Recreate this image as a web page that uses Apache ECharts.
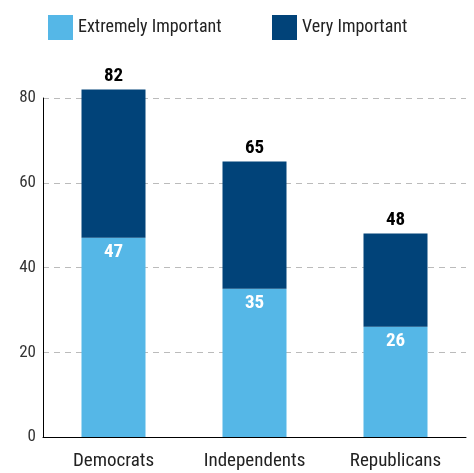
<!DOCTYPE html>
<html><head><meta charset="utf-8">
<script src="https://cdn.jsdelivr.net/npm/echarts@6/dist/echarts.min.js"></script>
<style>html,body{margin:0;padding:0;background:#fff}#c{width:474px;height:473px}</style>
</head><body><div id="c"></div>
<script>
const categories = ['Democrats', 'Independents', 'Republicans'];
const extremely = [47, 35, 26];
const very = [35, 30, 22];
const totals = [82, 65, 48];
const yTicks = [0, 20, 40, 60, 80];

const FONT = '"Liberation Sans Narrow", "Roboto Condensed", "DejaVu Sans Condensed", Roboto, sans-serif';
const legendBase = { top: 10, itemWidth: 25, itemHeight: 25, icon: 'rect', itemGap: 8,
  textStyle: { fontFamily: FONT, fontSize: 18, color: '#222' } };
const chart = echarts.init(document.getElementById('c'));
chart.setOption({
  animation: false,
  textStyle: { fontFamily: FONT },
  legend: [
    Object.assign({ left: 43, data: ['Extremely Important'] }, legendBase),
    Object.assign({ left: 267, data: ['Very Important'] }, legendBase)
  ],
  grid: { left: 43, right: 8, top: 98, bottom: 36 },
  xAxis: {
    type: 'category', data: categories,
    axisLine: { lineStyle: { color: '#000', width: 1 } },
    axisTick: { show: false },
    axisLabel: { fontFamily: FONT, fontSize: 19, color: '#222', margin: 15 }
  },
  yAxis: {
    type: 'value', min: yTicks[0], max: yTicks[yTicks.length - 1], interval: 20,
    axisLine: { show: true, lineStyle: { color: '#000', width: 1 } },
    axisTick: { show: false },
    axisLabel: { fontFamily: FONT, fontSize: 17, color: '#333', margin: 7 },
    splitLine: { lineStyle: { color: '#bbb', type: [6, 5], width: 1 } }
  },
  series: [
    {
      name: 'Extremely Important', type: 'bar', stack: 's', barWidth: 64, clip: false,
      data: extremely, itemStyle: { color: '#55b7e7' },
      label: { show: true, position: 'insideTop', distance: 5, color: '#fff', fontWeight: 'bold', fontSize: 19, fontFamily: FONT }
    },
    {
      name: 'Very Important', type: 'bar', stack: 's', barWidth: 64, clip: false,
      data: very, itemStyle: { color: '#014379' },
      label: { show: true, position: 'top', distance: 4, color: '#000', fontWeight: 'bold', fontSize: 19, fontFamily: FONT,
        formatter: p => totals[p.dataIndex] }
    }
  ]
});
</script></body></html>
